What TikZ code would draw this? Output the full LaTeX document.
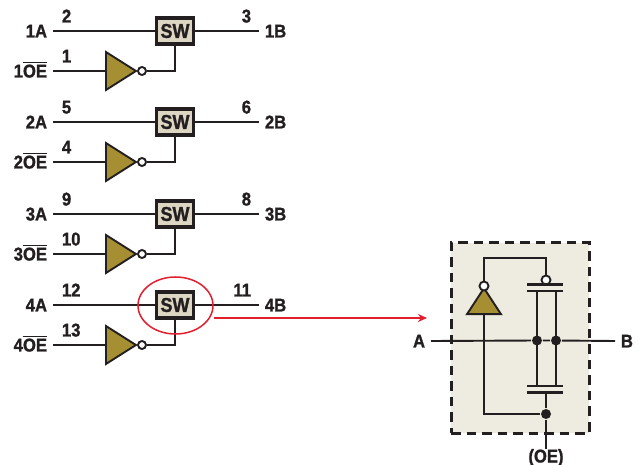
\documentclass[tikz,border=0pt]{standalone}
\usepackage{fontspec}
\setmainfont{Liberation Sans}[BoldFeatures={FakeStretch=0.9,FakeBold=1.2}]
\usetikzlibrary{arrows.meta,shapes.geometric}
\definecolor{ink}{HTML}{231F20}
\definecolor{swfill}{HTML}{DDD6C3}
\definecolor{invfill}{HTML}{A68F33}
\definecolor{cellfill}{HTML}{EEECE0}
\definecolor{callred}{HTML}{E0202F}
\newcommand{\barred}[1]{\setbox0=\hbox{#1}\rlap{\rule[14pt]{\wd0}{1.5pt}}\box0}
\begin{document}
\begin{tikzpicture}[x=1pt,y=-1pt,>=Stealth,line width=1.9pt,draw=ink,text=ink]
\tikzstyle{lab}=[inner ysep=0pt,inner xsep=5pt,text height=13pt,text depth=0pt,font=\fontsize{18.5}{20}\selectfont\bfseries]
\tikzstyle{pin}=[lab,inner xsep=0pt]
\tikzstyle{sw}=[draw,line width=3.2pt,fill=swfill,minimum width=37pt,minimum height=26pt,inner sep=0pt,font=\fontsize{20}{21}\selectfont\bfseries]
\tikzstyle{inv}=[draw,fill=invfill,isosceles triangle,isosceles triangle stretches,minimum height=30pt,minimum width=38pt,inner sep=0pt]
\tikzstyle{bub}=[circle,draw,fill=white,minimum size=8pt,inner sep=0pt]
\tikzstyle{dot}=[circle,fill=ink,minimum size=10pt,inner sep=0pt]
\tikzstyle{plate}=[line width=2.2pt]
\useasboundingbox (0,0) rectangle (638,465);
\foreach \r/\y/\p/\q/\e in {1/31/2/3/1,2/122/5/6/4,3/214/9/8/10,4/305/12/11/13} {
  \node[sw] (sw\r) at (175,\y) {SW};
  \node[lab,anchor=east] (a\r) at (53,\y) {\r A};
  \node[lab,anchor=west] (b\r) at (259,\y) {\r B};
  \node[lab,anchor=east] (oe\r) at (53,\y+40) {\r\barred{OE}};
  \node[pin,anchor=west] (pa\r) at (61,\y-15) {\p};
  \node[pin,anchor=east] (pb\r) at (252,\y-15) {\q};
  \node[pin,anchor=west] (pe\r) at (61,\y+25) {\e};
  \node[inv,anchor=lower side] (inv\r) at (105,\y+40) {};
  \node[bub,anchor=center] (bub\r) at (142,\y+40) {};
  \draw (a\r.east) -- (sw\r.west);
  \draw (sw\r.east) -- (b\r.west);
  \draw (oe\r.east) -- (inv\r.lower side);
  \draw (bub\r.east) -| (sw\r.south);
}
% callout
\node[draw=callred,ellipse,line width=1.5pt,minimum width=75pt,minimum height=57pt,inner sep=0pt] (ring) at (175.5,305.5) {};
\coordinate (callfrom) at (214,318);
\coordinate (callto) at (427,318);
\draw[-{Stealth[length=9pt,width=8pt]},callred,line width=1.5pt] (callfrom) -- (callto);
% switch cell
\node[draw,dashed,dash pattern=on 9.5pt off 6pt,fill=cellfill,line width=3pt,minimum width=138pt,minimum height=190pt,inner sep=0pt] (cell) at (520,338) {};
\node[lab,anchor=east] (pA) at (431,341) {A};
\node[lab,anchor=west] (pB) at (615,341) {B};
\node[lab,inner sep=0pt] (pOE) at (546,456) {(OE)};
\node[inv,shape border rotate=90,minimum height=26pt,minimum width=34pt] (cinv) at (484,305) {};
\node[bub,minimum size=9pt] (cbub) at (484,286) {};
\node[bub,minimum size=9pt] (gbub) at (546,280) {};
\coordinate (ptl) at (527,284.5); \coordinate (ptr) at (563,284.5);
\coordinate (pul) at (527,291); \coordinate (pur) at (563,291);
\coordinate (pdl) at (527,386); \coordinate (pdr) at (563,386);
\coordinate (pbl) at (527,392.5); \coordinate (pbr) at (563,392.5);
\coordinate (col) at (537,291); \coordinate (cor) at (556,291);
\coordinate (cdl) at (537,386); \coordinate (cdr) at (556,386);
\coordinate (gate) at (546,392.5);
\coordinate (top) at (484,258);
\coordinate (invin) at (484,318);
\node[dot] (dl) at (537,340.5) {};
\node[dot] (dr) at (556,340.5) {};
\node[dot] (dg) at (546,414) {};
\draw[plate] (ptl) -- (ptr);
\draw[plate] (pul) -- (pur);
\draw[plate] (pdl) -- (pdr);
\draw[plate] (pbl) -- (pbr);
\draw[plate] (col) -- (cdl);
\draw[plate] (cor) -- (cdr);
\draw (pA.east) -- (dl) -- (dr) -- (pB.west);
\draw (cbub) -- (top) -| (gbub);
\draw (cinv.south) -- (invin) |- (dg);
\draw (gate) -- (dg) -- (pOE.north);
\end{tikzpicture}
\end{document}
